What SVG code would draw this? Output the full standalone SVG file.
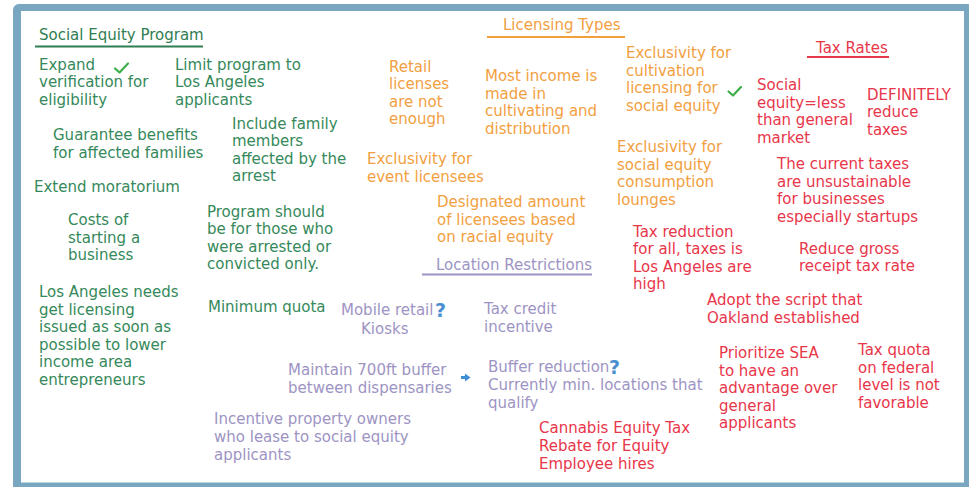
<svg xmlns="http://www.w3.org/2000/svg" width="969" height="487" viewBox="0 0 969 487">
<style>
text{font-family:"DejaVu Sans","Verdana",sans-serif;font-size:15px}
.g{fill:#35895a}
.o{fill:#f2a03f}
.p{fill:#9d94c4}
.r{fill:#e8364a}
.q{fill:#4a8fd0;font-size:19px;font-weight:bold}
.ul{stroke-width:2;fill:none}
</style>
<rect x="13" y="4" width="960" height="490" rx="6" fill="#79a6c0"/>
<rect x="21" y="11" width="943" height="471.5" fill="#ffffff"/>

<g id="sep-header">
<text class="g" x="39" y="40" fill="#2f7d51" style="fill:#2f7d51">Social Equity Program</text>
<line class="ul" x1="35" y1="46.5" x2="203" y2="46.5" stroke="#2f7d51"/>
</g>
<g id="sep-expand"><text class="g" x="39" y="70"><tspan x="39">Expand</tspan><tspan x="39" dy="17.3">verification for</tspan><tspan x="39" dy="17.3">eligibility</tspan></text>
<path d="M115 68.5 L119.5 72.5 L128 63.5" fill="none" stroke="#3cae4a" stroke-width="2.2" stroke-linecap="round" stroke-linejoin="round"/></g>
<g id="sep-limit"><text class="g" x="175" y="70"><tspan x="175">Limit program to</tspan><tspan x="175" dy="17.3">Los Angeles</tspan><tspan x="175" dy="17.3">applicants</tspan></text></g>
<g id="sep-guarantee"><text class="g" x="53" y="140"><tspan x="53">Guarantee benefits</tspan><tspan x="53" dy="17.5">for affected families</tspan></text></g>
<g id="sep-family"><text class="g" x="232" y="129"><tspan x="232">Include family</tspan><tspan x="232" dy="17.3">members</tspan><tspan x="232" dy="17.3">affected by the</tspan><tspan x="232" dy="17.3">arrest</tspan></text></g>
<g id="sep-moratorium"><text class="g" x="34" y="192">Extend moratorium</text></g>
<g id="sep-costs"><text class="g" x="68" y="225"><tspan x="68">Costs of</tspan><tspan x="68" dy="17.5">starting a</tspan><tspan x="68" dy="17.5">business</tspan></text></g>
<g id="sep-arrested"><text class="g" x="207" y="217"><tspan x="207">Program should</tspan><tspan x="207" dy="17.3">be for those who</tspan><tspan x="207" dy="17.3">were arrested or</tspan><tspan x="207" dy="17.3">convicted only.</tspan></text></g>
<g id="sep-la-needs"><text class="g" x="39" y="297"><tspan x="39">Los Angeles needs</tspan><tspan x="39" dy="17.5">get licensing</tspan><tspan x="39" dy="17.5">issued as soon as</tspan><tspan x="39" dy="17.5">possible to lower</tspan><tspan x="39" dy="17.5">income area</tspan><tspan x="39" dy="17.5">entrepreneurs</tspan></text></g>
<g id="sep-quota"><text class="g" x="208" y="312">Minimum quota</text></g>

<g id="lt-header">
<text class="o" x="503" y="30">Licensing Types</text>
<line class="ul" x1="487" y1="37" x2="625" y2="37" stroke="#f2a03f"/>
</g>
<g id="lt-retail"><text class="o" x="389" y="72"><tspan x="389">Retail</tspan><tspan x="389" dy="17.3">licenses</tspan><tspan x="389" dy="17.3">are not</tspan><tspan x="389" dy="17.3">enough</tspan></text></g>
<g id="lt-income"><text class="o" x="485" y="81"><tspan x="485">Most income is</tspan><tspan x="485" dy="17.5">made in</tspan><tspan x="485" dy="17.5">cultivating and</tspan><tspan x="485" dy="17.5">distribution</tspan></text></g>
<g id="lt-event"><text class="o" x="367" y="164"><tspan x="367">Exclusivity for</tspan><tspan x="367" dy="17.5">event licensees</tspan></text></g>
<g id="lt-designated"><text class="o" x="437" y="207"><tspan x="437">Designated amount</tspan><tspan x="437" dy="17.5">of licensees based</tspan><tspan x="437" dy="17.5">on racial equity</tspan></text></g>
<g id="lt-cultivation"><text class="o" x="626" y="58"><tspan x="626">Exclusivity for</tspan><tspan x="626" dy="17.7">cultivation</tspan><tspan x="626" dy="17.7">licensing for</tspan><tspan x="626" dy="17.7">social equity</tspan></text>
<path d="M728.5 91.5 L733 95.5 L741 87" fill="none" stroke="#3cae4a" stroke-width="2.2" stroke-linecap="round" stroke-linejoin="round"/></g>
<g id="lt-lounges"><text class="o" x="617" y="152"><tspan x="617">Exclusivity for</tspan><tspan x="617" dy="17.7">social equity</tspan><tspan x="617" dy="17.7">consumption</tspan><tspan x="617" dy="17.7">lounges</tspan></text></g>

<g id="lr-header">
<text class="p" x="436" y="270">Location Restrictions</text>
<line class="ul" x1="422" y1="274.5" x2="592" y2="274.5" stroke="#9d94c4"/>
</g>
<g id="lr-mobile"><text class="p" x="341" y="315">Mobile retail</text><text class="q" x="435" y="317">?</text><text class="p" x="361" y="334">Kiosks</text></g>
<g id="lr-taxcredit"><text class="p" x="484" y="314"><tspan x="484">Tax credit</tspan><tspan x="484" dy="17.5">incentive</tspan></text></g>
<g id="lr-maintain"><text class="p" x="288" y="375"><tspan x="288">Maintain 700ft buffer</tspan><tspan x="288" dy="17.5">between dispensaries</tspan></text></g>
<g id="lr-buffer"><text class="p" x="488" y="372"><tspan x="488">Buffer reduction</tspan><tspan x="488" dy="17.8">Currently min. locations that</tspan><tspan x="488" dy="17.8">qualify</tspan></text><text class="q" x="609" y="374">?</text></g>
<g id="lr-incentive"><text class="p" x="214" y="424"><tspan x="214">Incentive property owners</tspan><tspan x="214" dy="17.8">who lease to social equity</tspan><tspan x="214" dy="17.8">applicants</tspan></text></g>

<g id="tr-header">
<text class="r" x="816" y="53">Tax Rates</text>
<line class="ul" x1="807" y1="57" x2="889" y2="57" stroke="#e8364a"/>
</g>
<g id="tr-social"><text class="r" x="757" y="90"><tspan x="757">Social</tspan><tspan x="757" dy="17.6">equity=less</tspan><tspan x="757" dy="17.6">than general</tspan><tspan x="757" dy="17.6">market</tspan></text></g>
<g id="tr-definitely"><text class="r" x="867" y="100"><tspan x="867">DEFINITELY</tspan><tspan x="867" dy="17.3">reduce</tspan><tspan x="867" dy="17.3">taxes</tspan></text></g>
<g id="tr-current"><text class="r" x="777" y="169"><tspan x="777">The current taxes</tspan><tspan x="777" dy="17.6">are unsustainable</tspan><tspan x="777" dy="17.6">for businesses</tspan><tspan x="777" dy="17.6">especially startups</tspan></text></g>
<g id="tr-reduction"><text class="r" x="633" y="237"><tspan x="633">Tax reduction</tspan><tspan x="633" dy="17.4">for all, taxes is</tspan><tspan x="633" dy="17.4">Los Angeles are</tspan><tspan x="633" dy="17.4">high</tspan></text></g>
<g id="tr-gross"><text class="r" x="799" y="254"><tspan x="799">Reduce gross</tspan><tspan x="799" dy="17.4">receipt tax rate</tspan></text></g>
<g id="tr-oakland"><text class="r" x="707" y="305"><tspan x="707">Adopt the script that</tspan><tspan x="707" dy="17.6">Oakland established</tspan></text></g>
<g id="tr-prioritize"><text class="r" x="719" y="358"><tspan x="719">Prioritize SEA</tspan><tspan x="719" dy="17.5">to have an</tspan><tspan x="719" dy="17.5">advantage over</tspan><tspan x="719" dy="17.5">general</tspan><tspan x="719" dy="17.5">applicants</tspan></text></g>
<g id="tr-federal"><text class="r" x="858" y="355"><tspan x="858">Tax quota</tspan><tspan x="858" dy="17.6">on federal</tspan><tspan x="858" dy="17.6">level is not</tspan><tspan x="858" dy="17.6">favorable</tspan></text></g>
<g id="tr-cannabis"><text class="r" x="539" y="433"><tspan x="539">Cannabis Equity Tax</tspan><tspan x="539" dy="17.8">Rebate for Equity</tspan><tspan x="539" dy="17.8">Employee hires</tspan></text></g>

<g id="connectors">
<path d="M461 377.5 H466" stroke="#3d8fd6" stroke-width="3"/>
<path d="M465 373.5 L470.5 377.5 L465 381.5 Z" fill="#3d8fd6"/>
</g>
</svg>
